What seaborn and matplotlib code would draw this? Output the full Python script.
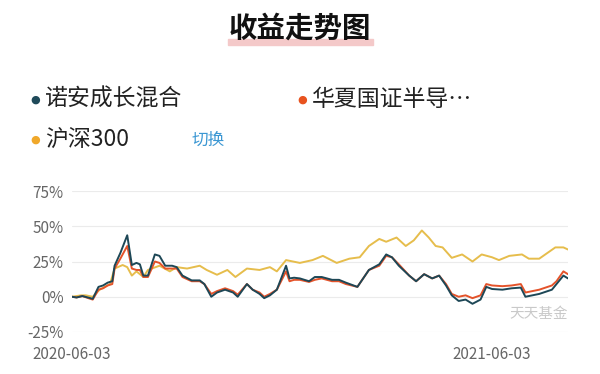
import numpy as np
import pandas as pd
import matplotlib
matplotlib.use("Agg")
import matplotlib.pyplot as plt
import seaborn as sns
from matplotlib.patches import Rectangle

sns.set_theme(style="white")
plt.rcParams['font.family'] = ['Noto Sans CJK SC', 'DejaVu Sans']

# ---- data ----
start_date = "2020-06-03"
series_names = ["诺安成长混合", "华夏国证半导体", "沪深300"]
legend_labels = ["诺安成长混合", "华夏国证半导…", "沪深300"]
colors = ["#1d4756", "#e4532a", "#e6bd4c"]
dot_colors = ["#1f4a5a", "#e8531f", "#f0a82a"]

fund_days = [0, 4, 9, 16, 18, 23, 27, 31, 35, 37, 42, 48, 52, 56, 59, 62, 66, 72, 76,
             81, 87, 91, 96, 104, 111, 115, 121, 126, 133, 140, 144, 152, 157, 163,
             167, 172, 178, 186, 189, 193, 198, 206, 211, 217, 226, 232, 238, 248,
             258, 267, 273, 278, 284, 293, 299, 306, 313, 319, 325, 330, 336, 342,
             348, 355, 360, 365, 374, 382, 390, 394, 400, 406, 417, 421, 427, 431]
nuoan_vals = [0, -0.5, 0.5, -1, -1.5, 7, 8, 10, 11, 22, 31, 43.6, 22.5, 24, 23, 15, 15, 30, 29,
              22, 22, 21, 15, 11.6, 11.6, 9, 0, 3, 5, 3, 0, 9, 5, 2,
              -1, 1, 5, 22, 13, 13.5, 13, 11, 14, 14, 12, 12, 10, 7,
              19, 23, 30, 28, 22, 15, 11, 16, 13, 15, 8, 1, -3, -2,
              -5, -2, 7, 5.5, 5, 6, 6.5, 0, 1, 2, 5, 9, 15, 13]
huaxia_vals = [0, -0.5, 0.5, -1.5, -2, 5, 6, 8, 9, 20, 27, 36, 20, 19, 19, 14, 14, 25, 24,
               20, 20, 20, 14, 11, 11, 9, 2, 4, 6, 4, 1.5, 9, 5, 3,
               0, 2, 5, 18, 11, 12, 12, 10.5, 12, 13, 11, 11, 9, 7,
               19, 22, 29, 28, 23, 15, 11, 16, 13, 15, 9, 2, 0, 1,
               -1, 1, 9, 8, 7.5, 8, 9, 3, 4, 5, 8, 11, 18, 16]

hs300_days = [0, 8, 12, 18, 24, 33, 37, 44, 48, 52, 56, 62, 66, 76, 85, 91, 100, 111,
              117, 126, 135, 142, 152, 163, 172, 178, 186, 198, 209, 218, 230, 241,
              250, 258, 267, 273, 282, 290, 297, 304, 310, 316, 322, 330, 339, 348,
              356, 365, 371, 380, 391, 397, 406, 413, 420, 427, 431]
hs300_vals = [0, 1, 1, 0, 5, 9, 20, 22.5, 21, 15, 18, 14, 19, 22, 18, 21, 20, 22,
              19, 15.6, 19, 14, 20, 19, 21, 18, 26, 24, 26, 29, 24, 27,
              28, 36, 41, 39, 42, 36, 40, 47, 42, 36, 35, 27.6, 30, 25,
              30, 28, 26, 29, 30, 27, 27, 31, 35, 35, 33.5]

y_ticks = [-25, 0, 25, 50, 75]
x_tick_days = [0, 365]
x_tick_labels = ["2020-06-03", "2021-06-03"]

# ---- frame ----
t0 = pd.Timestamp(start_date)
frames = []
for name, days, vals in [(series_names[0], fund_days, nuoan_vals),
                         (series_names[1], fund_days, huaxia_vals),
                         (series_names[2], hs300_days, hs300_vals)]:
    frames.append(pd.DataFrame({"date": [t0 + pd.Timedelta(days=d) for d in days],
                                "value": vals, "series": name}))
df = pd.concat(frames, ignore_index=True)
hue_order = [series_names[2], series_names[1], series_names[0]]
palette = {n: c for n, c in zip(series_names, colors)}

fig = plt.figure(figsize=(6.0, 3.74), dpi=100, facecolor="white")
ax = fig.add_axes([72 / 600, 0.1123, (568 - 72) / 600, 0.3770])
ax.set_facecolor("white")

sns.lineplot(data=df, x="date", y="value", hue="series", hue_order=hue_order,
             palette=palette, linewidth=1.4, legend=False, ax=ax, estimator=None)

ax.set_xlim(t0, t0 + pd.Timedelta(days=431))
ax.set_ylim(-25, 75)
ax.set_yticks(y_ticks)
ax.set_yticklabels([f"{v}%" for v in y_ticks])
ax.set_xticks([t0 + pd.Timedelta(days=d) for d in x_tick_days])
ax.set_xticklabels(x_tick_labels)
ax.grid(axis="y", color="#ebebeb", linewidth=0.8)
ax.grid(axis="x", visible=False)
for s in ax.spines.values():
    s.set_visible(False)
ax.tick_params(axis="y", length=0, pad=6, labelsize=11, labelcolor="#666666")
ax.tick_params(axis="x", length=0, pad=10, labelsize=11, labelcolor="#666666")
ax.set_xlabel("")
ax.set_ylabel("")

# watermark
ax.text(1.0, 0.13, "天天基金", transform=ax.transAxes, ha="right", va="center",
        fontsize=10.5, color="#c9c9c9")

# title with highlight
fig.patches.append(Rectangle((228 / 600, 1 - 45 / 374), 145 / 600, 6 / 374,
                             transform=fig.transFigure, color="#f4c9c9", zorder=0))
fig.text(0.5, 1 - 29 / 374, "收益走势图", ha="center", va="center",
         fontsize=20.5, fontweight="bold", color="#111111", zorder=2)

# legend
leg_pos = [(35, 100), (302, 100), (35, 140)]
for (x, y), lab, dc in zip(leg_pos, legend_labels, dot_colors):
    fig.text(x / 600, 1 - y / 374, "●", ha="center", va="center", fontsize=8,
             color=dc, family="DejaVu Sans")
    fig.text((x + 10) / 600, 1 - (y - 1) / 374, lab, ha="left", va="center",
             fontsize=16.5, color="#222222")
fig.text(192 / 600, 1 - 140 / 374, "切换", ha="left", va="center",
         fontsize=12, color="#3b97d3")

fig.savefig("out.png", dpi=100, facecolor="white")
